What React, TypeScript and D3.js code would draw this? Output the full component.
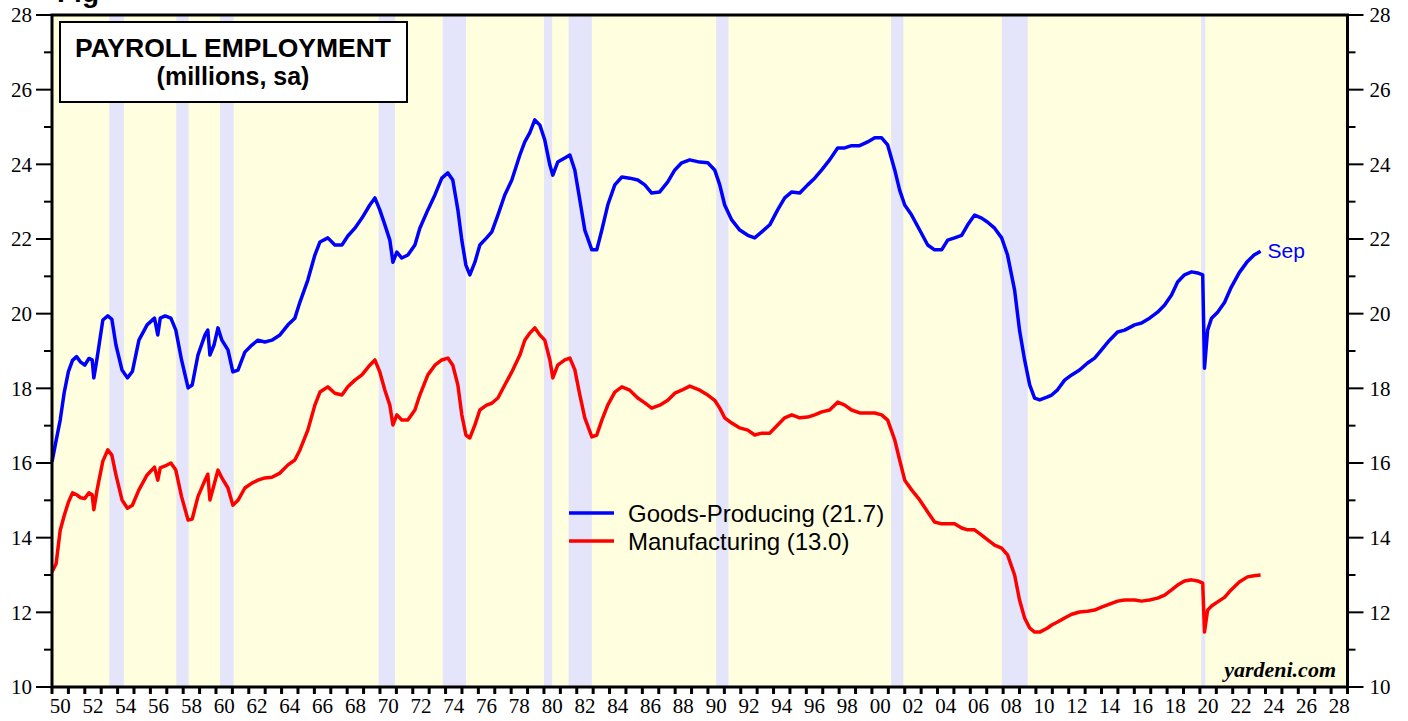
import React from "react";
import * as d3 from "d3";

// decimal years
const dates = [
  1950.0, 1950.25, 1950.5, 1950.75, 1951.0, 1951.25, 1951.5, 1951.75, 1952.0, 1952.25,
  1952.45, 1952.55, 1952.75, 1953.1, 1953.4, 1953.65, 1953.9, 1954.27, 1954.6, 1954.9,
  1955.3, 1955.8, 1956.25, 1956.45, 1956.6, 1956.9, 1957.25, 1957.55, 1957.9, 1958.3,
  1958.55, 1958.9, 1959.33, 1959.5, 1959.63, 1959.88, 1960.12, 1960.36, 1960.73, 1961.03,
  1961.34, 1961.76, 1962.19, 1962.56, 1962.98, 1963.41, 1963.9, 1964.39, 1964.81, 1965.12,
  1965.6, 1966.03, 1966.34, 1966.82, 1967.25, 1967.68, 1968.04, 1968.47, 1968.9, 1969.38,
  1969.69, 1969.99, 1970.3, 1970.6, 1970.79, 1971.03, 1971.33, 1971.7, 1972.13, 1972.43,
  1972.92, 1973.35, 1973.77, 1974.14, 1974.44, 1974.75, 1974.99, 1975.24, 1975.48, 1975.79,
  1976.09, 1976.5, 1976.82, 1977.19, 1977.61, 1978.04, 1978.53, 1978.83, 1979.14, 1979.44,
  1979.75, 1980.05, 1980.36, 1980.54, 1980.84, 1981.27, 1981.58, 1981.88, 1982.19, 1982.49,
  1982.92, 1983.22, 1983.53, 1983.89, 1984.32, 1984.75, 1985.23, 1985.72, 1986.15, 1986.57,
  1987.06, 1987.55, 1987.98, 1988.4, 1988.89, 1989.5, 1989.99, 1990.41, 1990.72, 1991.02,
  1991.45, 1991.94, 1992.43, 1992.85, 1993.28, 1993.77, 1994.25, 1994.68, 1995.11, 1995.6,
  1996.08, 1996.51, 1996.94, 1997.42, 1997.91, 1998.34, 1998.76, 1999.25, 1999.74, 2000.17,
  2000.59, 2000.96, 2001.39, 2001.69, 2002.0, 2002.42, 2002.91, 2003.4, 2003.82, 2004.25,
  2004.62, 2005.04, 2005.47, 2005.84, 2006.26, 2006.69, 2007.06, 2007.48, 2007.91, 2008.27,
  2008.7, 2009.0, 2009.31, 2009.62, 2009.92, 2010.23, 2010.71, 2010.96, 2011.32, 2011.75,
  2012.18, 2012.66, 2013.15, 2013.58, 2014.0, 2014.49, 2014.98, 2015.41, 2016.02, 2016.44,
  2016.93, 2017.42, 2017.85, 2018.27, 2018.64, 2019.06, 2019.49, 2019.86, 2020.17, 2020.28,
  2020.47, 2020.71, 2021.08, 2021.5, 2021.9, 2022.4, 2022.9, 2023.3, 2023.7,
];

const goodsProducing = [
  16.03, 16.6, 17.15, 17.9, 18.45, 18.75, 18.85, 18.7, 18.62, 18.8,
  18.76, 18.28, 18.81, 19.83, 19.94, 19.85, 19.16, 18.49, 18.28, 18.45,
  19.29, 19.7, 19.88, 19.43, 19.88, 19.94, 19.88, 19.56, 18.76, 18.01,
  18.09, 18.89, 19.43, 19.56, 18.89, 19.16, 19.62, 19.29, 19.03, 18.44,
  18.49, 18.97, 19.16, 19.29, 19.24, 19.29, 19.43, 19.7, 19.88, 20.31,
  20.9, 21.57, 21.92, 22.03, 21.84, 21.84, 22.08, 22.29, 22.56, 22.91,
  23.1, 22.78, 22.38, 21.97, 21.38, 21.65, 21.49, 21.57, 21.84, 22.29,
  22.78, 23.18, 23.63, 23.77, 23.58, 22.78, 21.97, 21.3, 21.04, 21.38,
  21.84, 22.03, 22.19, 22.64, 23.18, 23.58, 24.25, 24.6, 24.85, 25.19,
  25.05, 24.65, 23.98, 23.71, 24.06, 24.17, 24.25, 23.85, 23.04, 22.24,
  21.71, 21.71, 22.24, 22.91, 23.45, 23.66, 23.63, 23.58, 23.45, 23.23,
  23.26, 23.53, 23.85, 24.04, 24.12, 24.06, 24.04, 23.85, 23.45, 22.91,
  22.51, 22.24, 22.1, 22.03, 22.19, 22.38, 22.78, 23.1, 23.26, 23.23,
  23.45, 23.63, 23.85, 24.12, 24.44, 24.44, 24.5, 24.5, 24.6, 24.71,
  24.71, 24.52, 23.85, 23.31, 22.91, 22.64, 22.24, 21.84, 21.71, 21.71,
  21.97, 22.03, 22.1, 22.38, 22.64, 22.56, 22.45, 22.29, 22.03, 21.57,
  20.63, 19.56, 18.76, 18.09, 17.74, 17.69, 17.77, 17.82, 17.96, 18.22,
  18.36, 18.49, 18.68, 18.81, 19.03, 19.29, 19.51, 19.56, 19.7, 19.75,
  19.88, 20.04, 20.23, 20.5, 20.85, 21.04, 21.12, 21.09, 21.04, 18.54,
  19.56, 19.88, 20.04, 20.3, 20.7, 21.1, 21.4, 21.57, 21.67,
];

const manufacturing = [
  13.08, 13.3, 14.2, 14.6, 14.95, 15.2, 15.15, 15.07, 15.05, 15.2,
  15.15, 14.75, 15.28, 16.05, 16.35, 16.21, 15.68, 15.01, 14.79, 14.87,
  15.28, 15.68, 15.89, 15.54, 15.87, 15.92, 16.0, 15.81, 15.1, 14.47,
  14.5, 15.1, 15.54, 15.7, 15.01, 15.41, 15.81, 15.6, 15.33, 14.87,
  15.0, 15.33, 15.46, 15.54, 15.6, 15.62, 15.73, 15.95, 16.08, 16.35,
  16.88, 17.55, 17.9, 18.04, 17.87, 17.82, 18.04, 18.22, 18.36, 18.62,
  18.76, 18.44, 17.95, 17.55, 17.02, 17.29, 17.15, 17.15, 17.42, 17.82,
  18.36, 18.62, 18.76, 18.81, 18.62, 18.09, 17.29, 16.75, 16.67, 17.02,
  17.42, 17.55, 17.6, 17.74, 18.09, 18.44, 18.89, 19.29, 19.48, 19.62,
  19.43, 19.29, 18.76, 18.28, 18.62, 18.76, 18.81, 18.5, 17.82, 17.21,
  16.7, 16.75, 17.15, 17.55, 17.9, 18.04, 17.95, 17.74, 17.61, 17.47,
  17.55, 17.68, 17.87, 17.95, 18.06, 17.95, 17.82, 17.68, 17.47, 17.21,
  17.07, 16.94, 16.88, 16.75, 16.8, 16.8, 17.02, 17.21, 17.29, 17.21,
  17.23, 17.29, 17.37, 17.42, 17.63, 17.55, 17.42, 17.34, 17.34, 17.34,
  17.29, 17.15, 16.62, 16.08, 15.54, 15.28, 15.01, 14.69, 14.42, 14.37,
  14.37, 14.37, 14.26, 14.21, 14.21, 14.07, 13.94, 13.8, 13.72, 13.54,
  13.0, 12.33, 11.85, 11.58, 11.47, 11.47, 11.58, 11.66, 11.74, 11.85,
  11.95, 12.01, 12.03, 12.06, 12.14, 12.22, 12.3, 12.33, 12.33, 12.3,
  12.33, 12.38, 12.46, 12.6, 12.73, 12.84, 12.87, 12.84, 12.78, 11.47,
  12.06, 12.17, 12.28, 12.4, 12.6, 12.81, 12.95, 12.98, 13.0,
];

// NBER recessions (start, end) in decimal years
const recessions = [
  [1953.5, 1954.38], [1957.58, 1958.33], [1960.25, 1961.08], [1969.92, 1970.92],
  [1973.83, 1975.25], [1980.0, 1980.5], [1981.5, 1982.92], [1990.5, 1991.25],
  [2001.17, 2001.92], [2007.92, 2009.5], [2020.08, 2020.33],
];

const yMajor = [10, 12, 14, 16, 18, 20, 22, 24, 26, 28];
const yMinor = [11, 13, 15, 17, 19, 21, 23, 25, 27];

const W = 1408;
const H = 721;
const left = 52, right = 1347.5, top = 15, bottom = 687;

const SANS = "'Liberation Sans', Arial, Helvetica, sans-serif";
const SERIF = "'Liberation Serif', 'Times New Roman', Times, serif";

export default function App() {
  const x = d3.scaleLinear().domain([1950, 2029]).range([left, right]);
  const y = d3.scaleLinear().domain([10, 28]).range([bottom, top]);

  const years = d3.range(1950, 2030);
  const labelYears = d3.range(1950, 2029, 2);

  const line = (vals: number[]) =>
    d3.line<number>()
      .x((_, i) => x(dates[i]))
      .y((d) => y(d))(vals) || "";

  return (
    <div style={{ position: "absolute", left: 0, top: 0 }}>
      <svg width={W} height={H} style={{ display: "block", background: "#fff" }}>
        {/* heading above the page edge, only its descender shows */}
        <text x={57} y={2} fontFamily={SANS} fontWeight="bold" fontSize={28}>Fig</text>

        <rect x={left} y={top} width={right - left} height={bottom - top} fill="#ffffe0" />
        {recessions.map(([a, b], i) => (
          <rect key={i} x={x(a)} y={top} width={x(b) - x(a)} height={bottom - top} fill="#e4e4fa" />
        ))}

        <path d={line(manufacturing)} fill="none" stroke="#ff0000" strokeWidth={3.5} strokeLinejoin="round" />
        <path d={line(goodsProducing)} fill="none" stroke="#0000ff" strokeWidth={3.5} strokeLinejoin="round" />

        {/* frame */}
        <rect x={left} y={top} width={right - left} height={bottom - top} fill="none" stroke="#000" strokeWidth={3} />

        {/* y ticks, both sides */}
        {yMajor.map((v) => (
          <g key={"M" + v}>
            <line x1={36} x2={left} y1={y(v)} y2={y(v)} stroke="#000" strokeWidth={2} />
            <line x1={right} x2={right + 16} y1={y(v)} y2={y(v)} stroke="#000" strokeWidth={2} />
            <text x={32} y={y(v)} dy="0.35em" textAnchor="end" fontFamily={SERIF} fontSize={21}>{v}</text>
            <text x={right + 22} y={y(v)} dy="0.35em" textAnchor="start" fontFamily={SERIF} fontSize={21}>{v}</text>
          </g>
        ))}
        {yMinor.map((v) => (
          <g key={"m" + v}>
            <line x1={left - 8} x2={left} y1={y(v)} y2={y(v)} stroke="#000" strokeWidth={2} />
            <line x1={right} x2={right + 8} y1={y(v)} y2={y(v)} stroke="#000" strokeWidth={2} />
          </g>
        ))}

        {/* x ticks */}
        {years.map((yr) => (
          <line key={yr} x1={x(yr)} x2={x(yr)} y1={bottom} y2={bottom + 7} stroke="#000" strokeWidth={3} />
        ))}
        {labelYears.map((yr) => (
          <text key={yr} x={x(yr + 0.5)} y={713} textAnchor="middle" fontFamily={SERIF} fontSize={21}>
            {String(yr % 100).padStart(2, "0")}
          </text>
        ))}

        {/* title box */}
        <rect x={60} y={22} width={347} height={80} fill="#fff" stroke="#000" strokeWidth={2} />
        <text x={233} y={57} textAnchor="middle" fontFamily={SANS} fontWeight="bold" fontSize={26.5}>PAYROLL EMPLOYMENT</text>
        <text x={233} y={85} textAnchor="middle" fontFamily={SANS} fontWeight="bold" fontSize={25}>(millions, sa)</text>

        {/* legend */}
        <line x1={569} x2={614} y1={513} y2={513} stroke="#0000ff" strokeWidth={3.5} />
        <text x={628} y={522} fontFamily={SANS} fontSize={24}>Goods-Producing (21.7)</text>
        <line x1={569} x2={614} y1={541} y2={541} stroke="#ff0000" strokeWidth={3.5} />
        <text x={628} y={550} fontFamily={SANS} fontSize={24}>Manufacturing (13.0)</text>

        <text x={x(dates[dates.length - 1]) + 7} y={258} fill="#0000ff" fontFamily={SANS} fontSize={21}>Sep</text>

        <text x={1336} y={677} textAnchor="end" fontFamily={SERIF} fontStyle="italic" fontWeight="bold" fontSize={22}>yardeni.com</text>
      </svg>
    </div>
  );
}
